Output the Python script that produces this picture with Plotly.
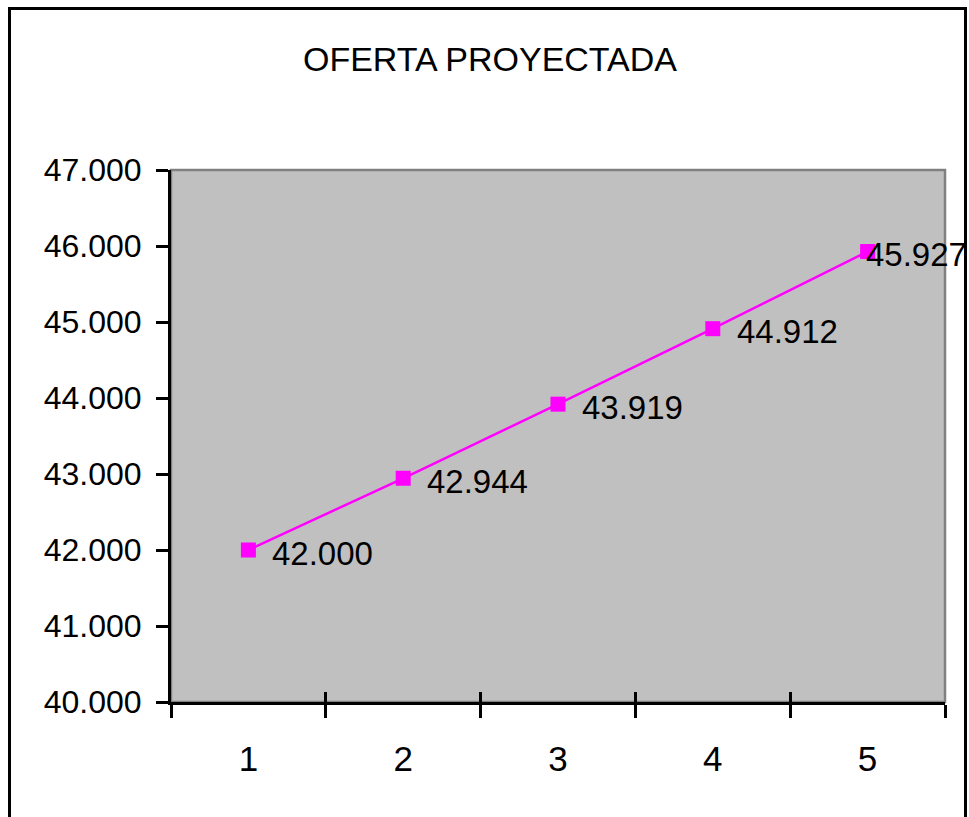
import plotly.graph_objects as go

categories = [1, 2, 3, 4, 5]
tick_labels = ["1", "2", "3", "4", "5"]
values = [42000, 42944, 43919, 44912, 45927]
value_labels = ["42.000", "42.944", "43.919", "44.912", "45.927"]
y_ticks = [40000, 41000, 42000, 43000, 44000, 45000, 46000, 47000]
y_tick_labels = ["40.000", "41.000", "42.000", "43.000", "44.000", "45.000", "46.000", "47.000"]
boundaries = [0.5, 1.5, 2.5, 3.5, 4.5, 5.5]

W, H = 969, 817
L, R, T, B = 171, 945, 170, 702
pw, ph = R - L, B - T

def px(x):
    return (x - L) / pw

def py(y):
    return (B - y) / ph

font_main = "Liberation Sans, Arial, sans-serif"

fig = go.Figure()
fig.add_trace(go.Scatter(
    x=categories, y=values, mode="lines+markers",
    line=dict(color="#FF00FF", width=2.5),
    marker=dict(symbol="square", size=15, color="#FF00FF"),
    showlegend=False, hoverinfo="skip",
))
fig.add_trace(go.Scatter(
    x=categories, y=values, mode="none", xaxis="x2",
    showlegend=False, hoverinfo="skip",
))

annotations = []
for i, (c, v, t) in enumerate(zip(categories, values, value_labels)):
    last = i == len(categories) - 1
    annotations.append(dict(
        x=c, y=v, xref="x", yref="y", text=t, showarrow=False,
        xanchor="left", yanchor="middle", xshift=-4 if last else 22, yshift=-3,
        font=dict(family=font_main, size=33, color="black"),
    ))

fig.update_layout(
    width=W, height=H,
    margin=dict(l=L, r=W - R, t=T, b=H - B),
    paper_bgcolor="white",
    plot_bgcolor="#C0C0C0",
    title=dict(
        text="OFERTA PROYECTADA", x=(303 + 677) / 2 / W, xanchor="center",
        y=1 - 59 / H, yanchor="middle",
        font=dict(family=font_main, size=34, color="black"),
    ),
    xaxis=dict(
        range=[0.5, 5.5], tickmode="array", tickvals=categories, ticktext=tick_labels,
        ticks="", showgrid=False, zeroline=False,
        showline=True, linecolor="black", linewidth=3,
        tickfont=dict(family=font_main, size=35, color="black"),
        ticklabelstandoff=24,
        minor=dict(tickmode="array", tickvals=boundaries, ticks="outside",
                   ticklen=13, tickwidth=2.5, tickcolor="black", showgrid=False),
    ),
    xaxis2=dict(
        range=[0.5, 5.5], overlaying="x", anchor="y", side="bottom",
        tickmode="array", tickvals=boundaries, ticks="inside", ticklen=10,
        tickwidth=2.5, tickcolor="black", showticklabels=False,
        showgrid=False, zeroline=False, showline=False,
    ),
    yaxis=dict(
        range=[40000, 47000], tickmode="array", tickvals=y_ticks, ticktext=y_tick_labels,
        ticks="outside", ticklen=12, tickwidth=2.5, tickcolor="black",
        showgrid=False, zeroline=False,
        showline=True, linecolor="black", linewidth=3,
        tickfont=dict(family=font_main, size=32, color="black"),
        ticklabelstandoff=8,
    ),
    annotations=annotations,
    shapes=[
        dict(type="rect", xref="paper", yref="paper", x0=0, x1=1, y0=0, y1=1,
             line=dict(color="#808080", width=2.5), fillcolor="rgba(0,0,0,0)", layer="below"),
        dict(type="rect", xref="paper", yref="paper",
             x0=px(9.5), x1=px(965.5), y0=py(8.5), y1=py(840),
             line=dict(color="black", width=3), fillcolor="rgba(0,0,0,0)", layer="above"),
    ],
)

fig.write_html(
    "out.html",
    config={"displayModeBar": False},
    post_script="document.body.style.margin='0';document.body.style.overflow='hidden';",
)
